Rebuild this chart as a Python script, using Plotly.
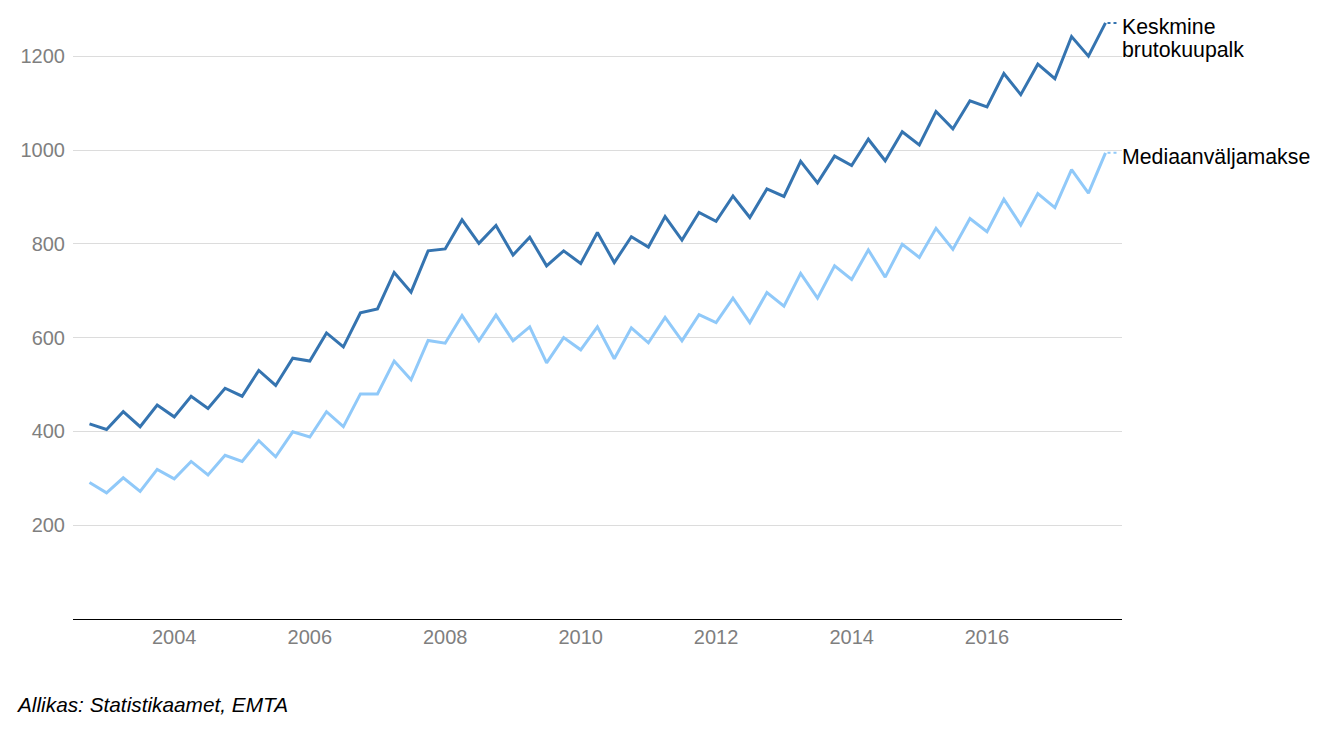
import pandas as pd
import plotly.graph_objects as go

# Quarterly data, 2002 Q4 – 2017 Q4
start_quarter = "2002-10-01"
n_quarters = 61

keskmine = [416, 404, 442, 410, 456, 431, 475, 449, 492, 475,
            530, 498, 556, 550, 610, 580, 653, 661, 739, 697,
            785, 789, 851, 801, 839, 776, 814, 753, 785, 758,
            824, 760, 815, 793, 858, 808, 867, 848, 902, 856,
            917, 901, 976, 930, 987, 967, 1023, 977, 1039, 1011,
            1082, 1045, 1105, 1092, 1163, 1118, 1183, 1152, 1242, 1200, 1271]

mediaan = [291, 269, 301, 272, 319, 299, 336, 307, 349, 336,
           380, 346, 399, 388, 442, 410, 480, 480, 550, 510,
           594, 588, 647, 593, 648, 593, 623, 546, 600, 574,
           623, 555, 621, 589, 643, 593, 649, 632, 684, 632,
           696, 667, 737, 684, 753, 724, 787, 729, 799, 771,
           833, 788, 854, 826, 895, 840, 907, 877, 958, 908, 994]

series_names = ["Keskmine brutokuupalk", "Mediaanväljamakse"]
label_lines = [["Keskmine", "brutokuupalk"], ["Mediaanväljamakse"]]
y_ticks = [200, 400, 600, 800, 1000, 1200]
source_text = "Allikas: Statistikaamet, EMTA"

dates = pd.date_range(start_quarter, periods=n_quarters, freq="QS")

colors = ["#3574b0", "#90c9f9"]
FONT = "Liberation Sans, Arial, sans-serif"

fig = go.Figure()
for name, vals, col in zip(series_names, [keskmine, mediaan], colors):
    fig.add_trace(go.Scatter(x=dates, y=vals, mode="lines", name=name,
                             line=dict(color=col, width=3), showlegend=False))

# End labels with small dashed connector
for vals, col, lines in zip([keskmine, mediaan], colors, label_lines):
    last_x = dates[-1]
    last_y = vals[-1]
    fig.add_shape(type="line", xref="x", yref="y", xsizemode="pixel",
                  xanchor=last_x, x0=2, x1=12, y0=last_y, y1=last_y,
                  line=dict(color=col, width=2, dash="3px,3px"))
    for i, txt in enumerate(lines):
        fig.add_annotation(x=last_x, y=last_y, xref="x", yref="y",
                           text=txt, showarrow=False, xanchor="left",
                           yanchor="middle", xshift=14, yshift=-4 - 23 * i,
                           font=dict(family=FONT, size=21.3, color="#000000"))

fig.add_annotation(x=-0.0562, y=-0.1412, xref="paper", yref="paper",
                   text="<i>" + source_text + "</i>", showarrow=False,
                   xanchor="left", yanchor="middle",
                   font=dict(family=FONT, size=20.8, color="#000000"))

fig.update_layout(
    width=1324, height=748,
    margin=dict(l=73, r=202, t=10, b=129),
    plot_bgcolor="white", paper_bgcolor="white",
    font=dict(family=FONT),
)
fig.update_xaxes(
    type="date",
    range=["2002-07-04", "2017-12-29"],
    tick0="2004-01-01", dtick="M24", tickformat="%Y",
    showgrid=False, zeroline=False,
    showline=True, linecolor="#000000", linewidth=1,
    ticks="", tickfont=dict(family=FONT, size=20, color="#7f7f7f"),
)
fig.update_yaxes(
    range=[0, 1298.5],
    tickvals=y_ticks,
    showgrid=True, gridcolor="#dcdcdc", gridwidth=1,
    zeroline=False, showline=False, ticks="",
    ticklabelstandoff=7,
    tickfont=dict(family=FONT, size=20, color="#7f7f7f"),
)

fig.write_html("out.html")
